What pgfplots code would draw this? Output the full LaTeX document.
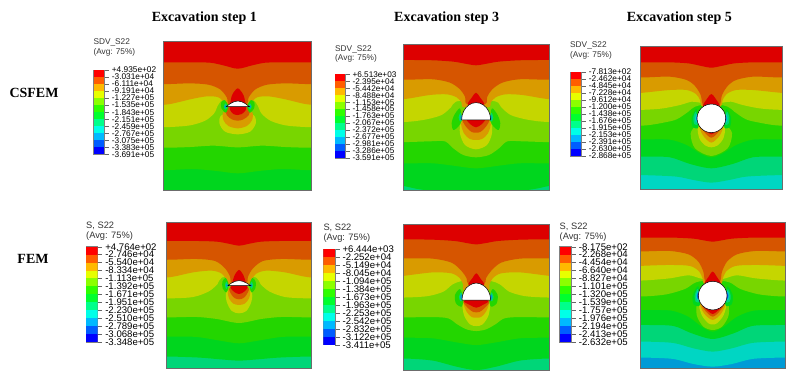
\documentclass[border=0pt]{standalone}
\usepackage{fontspec}
\setmainfont{Liberation Serif}
\newfontfamily\absf{Liberation Sans}
\usepackage{pgfplots}
\pgfplotsset{compat=1.18}

% contour colours (shaded) and legend colours
\definecolor{c1}{RGB}{221,0,0}
\definecolor{c2}{RGB}{214,85,0}
\definecolor{c3}{RGB}{217,155,0}
\definecolor{c4}{RGB}{197,214,0}
\definecolor{c5}{RGB}{120,214,0}
\definecolor{c6}{RGB}{35,214,0}
\definecolor{c7}{RGB}{0,214,30}
\definecolor{c8}{RGB}{0,214,120}
\definecolor{c9}{RGB}{0,214,195}
\definecolor{c10}{RGB}{0,155,214}
\definecolor{c11}{RGB}{0,80,214}
\definecolor{l1}{RGB}{255,0,0}
\definecolor{l2}{RGB}{255,93,0}
\definecolor{l3}{RGB}{255,185,0}
\definecolor{l4}{RGB}{231,255,0}
\definecolor{l5}{RGB}{139,255,0}
\definecolor{l6}{RGB}{46,255,0}
\definecolor{l7}{RGB}{0,255,46}
\definecolor{l8}{RGB}{0,255,139}
\definecolor{l9}{RGB}{0,255,232}
\definecolor{l10}{RGB}{0,185,255}
\definecolor{l11}{RGB}{0,93,255}
\definecolor{l12}{RGB}{0,0,255}

\pgfplotsset{
  panel/.style n args={4}{
    at={(#1pt,#2pt)}, anchor=south west, scale only axis,
    width=#3pt, height=#4pt, y dir=reverse,
    xtick=\empty, ytick=\empty, axis on top,
    axis line style={gray!85!black, line width=0.6pt}},
  legbar/.style n args={4}{
    at={(#1pt,#2pt)}, anchor=south west, scale only axis,
    width=#3pt, height=#4pt, y dir=reverse,
    xmin=0, xmax=1, ymin=0, ymax=12, xtick=\empty, ytick={0,...,12},
    ytick pos=right, yticklabel pos=right, tick align=outside,
    major tick length=4.5pt,
    tick style={black!60, line width=0.35pt},
    axis line style={gray, line width=0.5pt},
    yticklabel style={inner sep=0pt, xshift=2.9pt, anchor=west}},
}

\newcommand{\band}[2]{\addplot[fill=#1, draw=none, smooth] coordinates {#2} \closedcycle;}
\newcommand{\blob}[2]{\addplot[fill=#1, draw=none, smooth cycle] coordinates {#2};}
\newcommand{\hole}[1]{\addplot[fill=white, draw=black, line width=0.5pt] coordinates {#1};}
\newcommand{\ring}[1]{\addplot[fill=white, draw=black, line width=0.5pt, smooth cycle] coordinates {#1};}
\newcommand{\legbars}{%
  \addplot[fill=l1,draw=none] coordinates {(0,0)(1,0)(1,1)(0,1)};
  \addplot[fill=l2,draw=none] coordinates {(0,1)(1,1)(1,2)(0,2)};
  \addplot[fill=l3,draw=none] coordinates {(0,2)(1,2)(1,3)(0,3)};
  \addplot[fill=l4,draw=none] coordinates {(0,3)(1,3)(1,4)(0,4)};
  \addplot[fill=l5,draw=none] coordinates {(0,4)(1,4)(1,5)(0,5)};
  \addplot[fill=l6,draw=none] coordinates {(0,5)(1,5)(1,6)(0,6)};
  \addplot[fill=l7,draw=none] coordinates {(0,6)(1,6)(1,7)(0,7)};
  \addplot[fill=l8,draw=none] coordinates {(0,7)(1,7)(1,8)(0,8)};
  \addplot[fill=l9,draw=none] coordinates {(0,8)(1,8)(1,9)(0,9)};
  \addplot[fill=l10,draw=none] coordinates {(0,9)(1,9)(1,10)(0,10)};
  \addplot[fill=l11,draw=none] coordinates {(0,10)(1,10)(1,11)(0,11)};
  \addplot[fill=l12,draw=none] coordinates {(0,11)(1,11)(1,12)(0,12)};}

\begin{document}
\begin{tikzpicture}[x=1pt,y=1pt]
\path (0,0) rectangle (793,385);

% headings
\node[font=\fontsize{14}{15}\selectfont\bfseries] at (204.3,366.7) {Excavation step 1};
\node[font=\fontsize{14}{15}\selectfont\bfseries] at (446.7,366.7) {Excavation step 3};
\node[font=\fontsize{14}{15}\selectfont\bfseries] at (679.3,366.7) {Excavation step 5};
\node[font=\fontsize{14}{15}\selectfont\bfseries] at (34,292.3) {CSFEM};
\node[font=\fontsize{14}{15}\selectfont\bfseries] at (33,125.7) {FEM};

% legend headers
\tikzset{hd/.style={anchor=west, inner sep=0pt, text=black!80, font=\absf\fontsize{8.3}{9}\selectfont},
         hdb/.style={anchor=west, inner sep=0pt, text=black!80, font=\absf\fontsize{9.3}{10}\selectfont}}
\node[hd] at (93.3,342.7) {SDV\_S22};  \node[hd] at (93.3,332.3) {(Avg: 75\%)};
\node[hd] at (335,335.7) {SDV\_S22};   \node[hd] at (335,326.7) {(Avg: 75\%)};
\node[hd] at (570,339.3) {SDV\_S22};   \node[hd] at (570,330) {(Avg: 75\%)};
\node[hdb] at (86,159.3) {S, S22};     \node[hdb] at (86,149) {(Avg: 75\%)};
\node[hdb] at (323.3,156.7) {S, S22};  \node[hdb] at (323.3,146.7) {(Avg: 75\%)};
\node[hdb] at (559.5,158.3) {S, S22};  \node[hdb] at (559.5,148.3) {(Avg: 75\%)};

% colour bars
\begin{axis}[legbar={93.7}{230.7}{10.6}{84.3},
  tick label style={font=\absf\fontsize{8.3}{8.3}\selectfont},
  yticklabels={+4.935e+02,-3.031e+04,-6.111e+04,-9.191e+04,-1.227e+05,-1.535e+05,-1.843e+05,-2.151e+05,-2.459e+05,-2.767e+05,-3.075e+05,-3.383e+05,-3.691e+05}]
\legbars
\end{axis}
\begin{axis}[legbar={335}{227}{10}{83.7},
  tick label style={font=\absf\fontsize{8.2}{8.2}\selectfont},
  yticklabels={+6.513e+03,-2.395e+04,-5.442e+04,-8.488e+04,-1.153e+05,-1.458e+05,-1.763e+05,-2.067e+05,-2.372e+05,-2.677e+05,-2.981e+05,-3.286e+05,-3.591e+05}]
\legbars
\end{axis}
\begin{axis}[legbar={570.7}{229}{10.6}{84},
  tick label style={font=\absf\fontsize{8.3}{8.3}\selectfont},
  yticklabels={-7.813e+02,-2.462e+04,-4.845e+04,-7.228e+04,-9.612e+04,-1.200e+05,-1.438e+05,-1.676e+05,-1.915e+05,-2.153e+05,-2.391e+05,-2.630e+05,-2.868e+05}]
\legbars
\end{axis}
\begin{axis}[legbar={86}{43}{11.7}{95.3},
  tick label style={font=\absf\fontsize{9.6}{9.6}\selectfont},
  yticklabels={+4.764e+02,-2.746e+04,-5.540e+04,-8.334e+04,-1.113e+05,-1.392e+05,-1.671e+05,-1.951e+05,-2.230e+05,-2.510e+05,-2.789e+05,-3.068e+05,-3.348e+05}]
\legbars
\end{axis}
\begin{axis}[legbar={323.3}{40.3}{11.7}{95.4},
  tick label style={font=\absf\fontsize{9.6}{9.6}\selectfont},
  yticklabels={+6.444e+03,-2.252e+04,-5.149e+04,-8.045e+04,-1.094e+05,-1.384e+05,-1.673e+05,-1.963e+05,-2.253e+05,-2.542e+05,-2.832e+05,-3.122e+05,-3.411e+05}]
\legbars
\end{axis}
\begin{axis}[legbar={559.6}{43}{11.7}{95.3},
  tick label style={font=\absf\fontsize{9.6}{9.6}\selectfont},
  yticklabels={-8.175e+02,-2.268e+04,-4.454e+04,-6.640e+04,-8.827e+04,-1.101e+05,-1.320e+05,-1.539e+05,-1.757e+05,-1.976e+05,-2.194e+05,-2.413e+05,-2.632e+05}]
\legbars
\end{axis}

% CSFEM step 1
\begin{axis}[panel={163.5}{195}{148.2}{148.3}, xmin=250, xmax=695, ymin=125, ymax=570]
\band{c7}{(210,600)(735,600)}
\band{c6}{(210,510)(270,510)(340,507)(410,513)(473,520)(536,513)(606,507)(676,510)(735,510)}
\band{c5}{(210,443)(270,443)(330,441)(400,437)(473,442)(546,437)(616,441)(676,443)(735,443)}
\band{c4}{(210,382)(270,381)(330,376)(375,362)(402,340)(414,315)(430,298)(473,296)(516,298)(532,315)(544,340)(571,362)(616,376)(676,381)(735,382)}
\band{c3}{(210,318)(270,312)(330,298)(380,289)(415,292)(435,310)(442,320)(504,320)(511,310)(531,292)(566,289)(616,298)(676,312)(735,318)}
\band{c2}{(210,253)(270,252)(330,250)(385,254)(420,268)(440,292)(448,315)(498,315)(506,292)(526,268)(561,254)(616,250)(676,252)(735,253)}
\band{c1}{(210,187)(270,187)(330,187)(390,188)(430,196)(473,206)(516,196)(556,188)(616,187)(676,187)(735,187)}
\blob{c4}{(425,345)(418,370)(435,395)(473,403)(510,395)(527,370)(520,345)(473,335)}
\blob{c3}{(431,335)(430,360)(445,378)(473,385)(500,378)(516,360)(515,335)(473,320)}
\blob{c2}{(438,325)(440,345)(455,358)(473,362)(490,358)(506,345)(508,325)(473,310)}
\blob{c1}{(473,265)(490,285)(497,315)(497,330)(485,342)(473,345)(460,342)(450,330)(450,315)(456,285)}
\blob{c6}{(433,300)(445,318)(437,338)(424,325)(423,308)}
\blob{c6}{(513,300)(501,318)(509,338)(522,325)(523,308)}
\blob{c8}{(436,310)(442,320)(436,329)(431,320)}
\blob{c8}{(510,310)(504,320)(510,329)(515,320)}
\blob{c10}{(436,316)(439,320)(436,324)(433,320)}
\blob{c10}{(510,316)(513,320)(510,324)(507,320)}
\hole{(438,320)(450,311)(462,305)(473,303)(484,305)(496,311)(508,320)(438,320)}
\end{axis}

% CSFEM step 3
\begin{axis}[panel={403.3}{195}{146}{145.7}, xmin=250, xmax=688, ymin=133, ymax=570]
\band{c8}{(210,600)(730,600)}
\band{c7}{(210,555)(250,558)(340,572)(596,572)(688,558)(730,555)}
\band{c6}{(210,490)(270,490)(340,490)(400,497)(468,505)(537,497)(597,490)(667,490)(730,490)}
\band{c5}{(210,427)(270,426)(330,424)(375,424)(400,445)(430,465)(468,472)(507,465)(537,445)(562,424)(607,424)(667,426)(730,427)}
\band{c4}{(210,367)(270,365)(320,358)(365,345)(393,322)(408,305)(468,298)(529,305)(544,322)(572,345)(617,358)(667,365)(730,367)}
\band{c3}{(210,303)(270,295)(330,285)(380,283)(410,292)(425,308)(432,322)(505,322)(512,308)(527,292)(557,283)(607,285)(667,295)(730,303)}
\band{c2}{(210,240)(270,239)(340,238)(390,248)(420,268)(435,290)(441,312)(496,312)(502,290)(517,268)(547,248)(597,238)(667,239)(730,240)}
\band{c1}{(210,180)(270,180)(340,181)(400,185)(435,191)(468,196)(501,191)(536,185)(597,181)(667,180)(730,180)}
\blob{c4}{(425,365)(420,400)(435,435)(468,448)(501,435)(516,400)(511,365)(468,340)}
\blob{c3}{(425,365)(432,400)(450,417)(468,420)(486,417)(504,400)(511,365)(468,340)}
\blob{c2}{(428,355)(438,380)(455,396)(468,398)(481,396)(498,380)(508,355)(468,340)}
\blob{c1}{(440,355)(450,372)(468,382)(486,372)(496,355)(468,340)}
\blob{c1}{(468,278)(480,292)(492,315)(444,315)(456,292)}
\blob{c6}{(420,325)(403,345)(395,370)(400,390)(415,380)(425,360)}
\blob{c6}{(516,325)(533,345)(541,370)(536,390)(521,380)(511,360)}
\blob{c8}{(422,338)(416,352)(420,364)(426,360)}
\blob{c8}{(514,338)(520,352)(516,364)(510,360)}
\blob{c10}{(424,345)(421,354)(423,361)(427,358)}
\blob{c10}{(512,345)(515,354)(513,361)(509,358)}
\hole{(425,360)(426.5,346.5)(430.8,334)(437.7,323.2)(446.8,315)(457.2,309.8)(468.5,308)(480,309.8)(490.2,315)(499.3,323.2)(506.2,334)(510.5,346.5)(512,360)(425,360)}
\end{axis}

% CSFEM step 5
\begin{axis}[panel={640}{195.7}{142.7}{142.6}, xmin=240, xmax=668, ymin=140, ymax=568]
\band{c9}{(200,600)(710,600)}
\band{c8}{(200,525)(270,526)(350,530)(400,540)(454,548)(508,540)(558,530)(638,526)(710,525)}
\band{c7}{(200,470)(260,470)(330,472)(390,492)(454,505)(518,492)(578,472)(648,470)(710,470)}
\band{c6}{(200,418)(260,418)(330,419)(380,435)(420,460)(454,472)(488,460)(528,435)(578,419)(648,418)(710,418)}
\band{c5}{(200,378)(260,376)(310,368)(350,358)(385,335)(405,320)(454,310)(503,320)(523,335)(558,358)(598,368)(648,376)(710,378)}
\band{c4}{(200,330)(260,329)(310,325)(360,315)(395,305)(420,308)(454,310)(488,308)(513,305)(548,315)(598,325)(648,329)(710,330)}
\band{c3}{(200,283)(260,277)(330,270)(380,270)(408,282)(420,300)(428,320)(480,320)(488,300)(500,282)(528,270)(578,270)(648,277)(710,283)}
\band{c2}{(200,233)(260,232)(330,230)(380,240)(405,258)(422,285)(432,320)(476,320)(486,285)(503,258)(528,240)(578,230)(648,232)(710,233)}
\band{c1}{(200,187)(260,187)(330,187)(385,190)(420,197)(454,203)(488,197)(523,190)(578,187)(648,187)(710,187)}
\blob{c5}{(412,375)(392,400)(405,445)(454,468)(503,445)(516,400)(496,375)(454,360)}
\blob{c4}{(415,380)(418,415)(435,436)(454,442)(473,436)(490,415)(493,380)(454,360)}
\blob{c3}{(420,375)(428,405)(454,428)(480,405)(488,375)(454,360)}
\blob{c2}{(425,375)(436,400)(454,413)(472,400)(483,375)(454,360)}
\blob{c1}{(428,375)(442,395)(454,403)(466,395)(480,375)(454,360)}
\blob{c1}{(454,282)(466,295)(478,320)(430,320)(442,295)}
\blob{c7}{(410,327)(395,352)(398,380)(415,382)}
\blob{c7}{(498,327)(513,352)(510,380)(493,382)}
\blob{c8}{(408,335)(400,352)(403,372)(414,372)}
\blob{c8}{(500,335)(508,352)(505,372)(494,372)}
\blob{c9}{(410,342)(405,355)(408,367)(414,364)}
\blob{c9}{(498,342)(503,355)(500,367)(494,364)}
\blob{c10}{(411,346)(408,355)(410,363)(414,359)}
\blob{c10}{(497,346)(500,355)(498,363)(494,359)}
\blob{c11}{(412,349)(410,355)(412,361)(414,357)}
\blob{c11}{(496,349)(498,355)(496,361)(494,357)}
\ring{(497,355)(495.5,366.1)(491.2,376.5)(484.4,385.4)(475.5,392.2)(465.1,396.5)(454,398)(442.9,396.5)(432.5,392.2)(423.6,385.4)(416.8,376.5)(412.5,366.1)(411,355)(412.5,343.9)(416.8,333.5)(423.6,324.6)(432.5,317.8)(442.9,313.5)(454,312)(465.1,313.5)(475.5,317.8)(484.4,324.6)(491.2,333.5)(495.5,343.9)}
\end{axis}

% FEM step 1
\begin{axis}[panel={166.7}{16.7}{145}{146}, xmin=260, xmax=695, ymin=82, ymax=520]
\band{c8}{(220,560)(735,560)}
\band{c7}{(220,485)(280,485)(360,488)(420,493)(477,497)(534,493)(594,488)(674,485)(735,485)}
\band{c6}{(220,425)(280,425)(350,426)(420,437)(477,445)(534,437)(604,426)(674,425)(735,425)}
\band{c5}{(220,367)(280,367)(350,366)(410,372)(477,384)(544,372)(604,366)(674,367)(735,367)}
\band{c4}{(220,310)(280,310)(340,306)(385,290)(412,268)(425,248)(477,240)(529,248)(542,268)(569,290)(614,306)(674,310)(735,310)}
\band{c3}{(220,252)(280,245)(340,232)(395,227)(425,236)(442,258)(447,270)(507,270)(512,258)(529,236)(559,227)(614,232)(674,245)(735,252)}
\band{c2}{(220,195)(280,194)(350,192)(405,198)(435,220)(450,245)(456,268)(498,268)(504,245)(519,220)(549,198)(604,192)(674,194)(735,195)}
\band{c1}{(220,138)(280,138)(350,138)(410,140)(445,146)(477,152)(509,146)(544,140)(604,138)(674,138)(735,138)}
\blob{c4}{(440,290)(440,320)(455,348)(477,355)(499,348)(514,320)(514,290)(477,280)}
\blob{c3}{(445,285)(447,310)(460,326)(477,330)(494,326)(507,310)(509,285)(477,275)}
\blob{c2}{(448,280)(455,300)(465,310)(477,313)(489,310)(499,300)(506,280)(477,270)}
\blob{c1}{(477,225)(490,240)(497,262)(503,278)(490,292)(477,297)(464,292)(451,278)(457,262)(464,240)}
\blob{c6}{(437,249)(446,270)(439,292)(428,280)(427,260)}
\blob{c6}{(517,249)(508,270)(515,292)(526,280)(527,260)}
\blob{c8}{(439,260)(444,271)(439,282)(435,271)}
\blob{c8}{(515,260)(510,271)(515,282)(519,271)}
\blob{c10}{(441,267)(444,272)(441,276)(438,272)}
\blob{c10}{(513,267)(516,272)(513,276)(510,272)}
\hole{(443,272)(455,264)(466,259)(477,257)(488,259)(499,264)(512,272)(443,272)}
\end{axis}

% FEM step 3
\begin{axis}[panel={403.3}{14.3}{146}{146}, xmin=250, xmax=688, ymin=89, ymax=527]
\band{c8}{(210,560)(730,560)}
\band{c7}{(210,490)(270,491)(340,497)(410,515)(469,525)(528,515)(598,497)(668,491)(730,490)}
\band{c6}{(210,428)(270,428)(340,430)(410,442)(469,450)(528,442)(598,430)(668,428)(730,428)}
\band{c5}{(210,368)(270,367)(340,366)(385,370)(412,388)(440,403)(469,408)(498,403)(526,388)(553,370)(598,366)(668,367)(730,368)}
\band{c4}{(210,308)(270,307)(325,303)(370,290)(398,268)(425,258)(469,255)(513,258)(540,268)(568,290)(613,303)(668,307)(730,308)}
\band{c3}{(210,248)(270,240)(340,232)(395,235)(420,250)(430,270)(434,285)(504,285)(508,270)(518,250)(543,235)(598,232)(668,240)(730,248)}
\band{c2}{(210,190)(270,190)(340,191)(395,203)(425,228)(440,250)(446,268)(492,268)(498,250)(513,228)(543,203)(598,191)(668,190)(730,190)}
\band{c1}{(210,133)(270,133)(340,134)(405,138)(440,144)(469,148)(498,144)(533,138)(598,134)(668,133)(730,133)}
\blob{c4}{(430,320)(432,360)(450,388)(469,393)(488,388)(506,360)(508,320)(469,305)}
\blob{c3}{(432,320)(440,350)(455,366)(469,368)(483,366)(498,350)(506,320)(469,305)}
\blob{c2}{(430,318)(445,340)(460,351)(469,352)(478,351)(493,340)(508,318)(469,305)}
\blob{c1}{(432,318)(450,330)(469,338)(488,330)(505,318)(469,305)}
\blob{c1}{(469,235)(481,250)(492,270)(446,270)(457,250)}
\blob{c6}{(420,282)(405,300)(408,325)(425,335)(430,310)}
\blob{c6}{(518,282)(533,300)(530,325)(513,335)(508,310)}
\blob{c8}{(424,292)(417,305)(421,318)(428,315)}
\blob{c8}{(514,292)(521,305)(517,318)(510,315)}
\blob{c10}{(425,298)(421,306)(424,313)(428,310)}
\blob{c10}{(513,298)(517,306)(514,313)(510,310)}
\hole{(426,315)(427.5,302)(431.8,290)(438.6,279)(447.5,271.5)(458,266)(469,264)(480,266)(490.5,271.5)(499.4,279)(506.2,290)(510.5,302)(512,315)(426,315)}
\end{axis}

% FEM step 5
\begin{axis}[panel={640}{16.7}{145.7}{146}, xmin=240, xmax=677, ymin=82, ymax=520]
\band{c10}{(200,560)(720,560)}
\band{c9}{(200,488)(260,488)(340,492)(400,507)(458,515)(516,507)(576,492)(656,488)(720,488)}
\band{c8}{(200,440)(260,440)(340,444)(400,460)(458,470)(516,460)(576,444)(656,440)(720,440)}
\band{c7}{(200,390)(260,390)(340,393)(395,415)(458,432)(521,415)(576,393)(656,390)(720,390)}
\band{c6}{(200,345)(260,345)(335,347)(385,365)(425,395)(458,410)(491,395)(531,365)(581,347)(656,345)(720,345)}
\band{c5}{(200,305)(260,304)(320,298)(375,282)(408,262)(458,255)(508,262)(541,282)(596,298)(656,304)(720,305)}
\band{c4}{(200,258)(260,256)(330,250)(385,241)(420,250)(458,258)(496,250)(531,241)(586,250)(656,256)(720,258)}
\band{c3}{(200,215)(260,212)(330,210)(390,213)(418,230)(428,252)(434,268)(482,268)(488,252)(498,230)(526,213)(586,210)(656,212)(720,215)}
\band{c2}{(200,170)(260,169)(330,168)(385,178)(415,200)(430,230)(438,262)(478,262)(486,230)(501,200)(531,178)(586,168)(656,169)(720,170)}
\band{c1}{(200,128)(260,128)(340,128)(400,131)(430,136)(458,140)(486,136)(516,131)(576,128)(656,128)(720,128)}
\blob{c5}{(415,315)(410,360)(430,395)(458,405)(486,395)(506,360)(501,315)(458,300)}
\blob{c4}{(418,320)(425,360)(445,385)(458,388)(471,385)(491,360)(498,320)(458,300)}
\blob{c3}{(420,320)(432,355)(458,375)(484,355)(496,320)(458,300)}
\blob{c2}{(425,325)(438,350)(458,365)(478,350)(491,325)(458,300)}
\blob{c1}{(430,330)(446,350)(458,357)(470,350)(486,330)(458,300)}
\blob{c1}{(458,230)(470,245)(482,270)(434,270)(446,245)}
\blob{c7}{(415,274)(398,300)(401,328)(420,330)}
\blob{c7}{(501,274)(518,300)(515,328)(496,330)}
\blob{c8}{(413,282)(404,302)(407,320)(420,320)}
\blob{c8}{(503,282)(512,302)(509,320)(496,320)}
\blob{c9}{(414,287)(408,302)(411,315)(420,313)}
\blob{c9}{(502,287)(508,302)(505,315)(496,313)}
\blob{c10}{(415,290)(410,302)(413,313)(419,309)}
\blob{c10}{(501,290)(506,302)(503,313)(497,309)}
\blob{c11}{(415,293)(412,302)(414,311)(418,306)}
\blob{c11}{(501,293)(504,302)(502,311)(498,306)}
\ring{(501,302)(499.5,313.1)(495.2,323.5)(488.4,332.4)(479.5,339.2)(469.1,343.5)(458,345)(446.9,343.5)(436.5,339.2)(427.6,332.4)(420.8,323.5)(416.5,313.1)(415,302)(416.5,290.9)(420.8,280.5)(427.6,271.6)(436.5,264.8)(446.9,260.5)(458,259)(469.1,260.5)(479.5,264.8)(488.4,271.6)(495.2,280.5)(499.5,290.9)}
\end{axis}

\pgfresetboundingbox
\path[use as bounding box] (0,0) rectangle (793,385);
\end{tikzpicture}
\end{document}
